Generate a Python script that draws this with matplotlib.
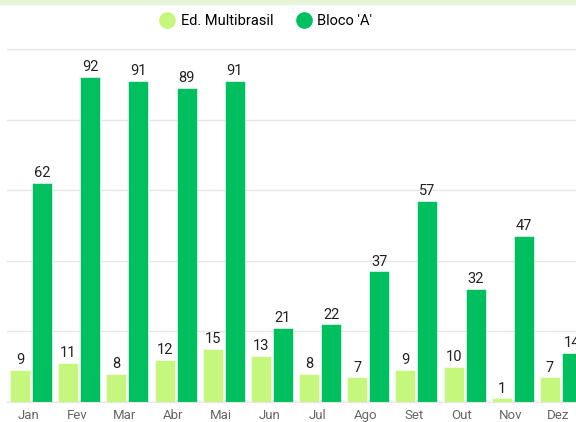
import numpy as np
import matplotlib.pyplot as plt
import matplotlib.transforms as mtransforms
from matplotlib.patches import Rectangle
from matplotlib.lines import Line2D

plt.rcParams['font.family'] = ['Roboto', 'Liberation Sans', 'DejaVu Sans']

months = ['Jan', 'Fev', 'Mar', 'Abr', 'Mai', 'Jun', 'Jul', 'Ago', 'Set', 'Out', 'Nov', 'Dez']
multibrasil = [9, 11, 8, 12, 15, 13, 8, 7, 9, 10, 1, 7]
bloco_a = [62, 92, 91, 89, 91, 21, 22, 37, 57, 32, 47, 14]

light = '#c6f77d'
dark = '#00bf5f'

W, H = 576, 422
fig = plt.figure(figsize=(W / 100, H / 100), dpi=100)

# light green band of the card above, cropped
fig.patches.append(Rectangle((0, 1 - 4 / H), 1, 4 / H, transform=fig.transFigure,
                             color='#e6f4dc', zorder=0))

ax = fig.add_axes([7 / W, 20 / H, 578 / W, 353 / H])
x = np.arange(len(months))
bw = 0.415
off = 0.228

b1 = ax.bar(x - off, multibrasil, bw, color=light, edgecolor='white', linewidth=0.4, zorder=2)
b2 = ax.bar(x + off, bloco_a, bw, color=dark, edgecolor='white', linewidth=0.4, zorder=2)

for bars, vals in [(b1, multibrasil), (b2, bloco_a)]:
    for b, v in zip(bars, vals):
        ax.annotate(str(v), (b.get_x() + b.get_width() / 2, v), xytext=(0, 2),
                    textcoords='offset points', ha='center', va='bottom',
                    fontsize=10.5, color='#222222')

ax.set_xlim(-0.5, 11.5)
ax.set_ylim(0, 100)
ax.set_yticks([0, 20, 40, 60, 80, 100])
ax.yaxis.grid(True, color='#e6e6e6', linewidth=1, zorder=0)
ax.tick_params(axis='y', left=False, labelleft=False)
ax.set_xticks(x)
ax.set_xticklabels(months, fontsize=9.5, color='#666666')
ax.tick_params(axis='x', length=0, pad=5)
shift = mtransforms.ScaledTranslation(-2.5 / 100, 0, fig.dpi_scale_trans)
for lbl in ax.get_xticklabels():
    lbl.set_transform(lbl.get_transform() + shift)
for s in ['top', 'right', 'left']:
    ax.spines[s].set_visible(False)
ax.spines['bottom'].set_color('#e6e6e6')

handles = [Line2D([], [], marker='o', linestyle='', markersize=11, color=light),
           Line2D([], [], marker='o', linestyle='', markersize=11, color=dark)]
fig.legend(handles, ['Ed. Multibrasil', "Bloco 'A'"], loc='center',
           bbox_to_anchor=(266 / W, 1 - 21 / H), ncol=2, frameon=False,
           fontsize=10.5, handletextpad=0.4, columnspacing=1.6, handlelength=1.0)

fig.savefig('out.png', dpi=100)
